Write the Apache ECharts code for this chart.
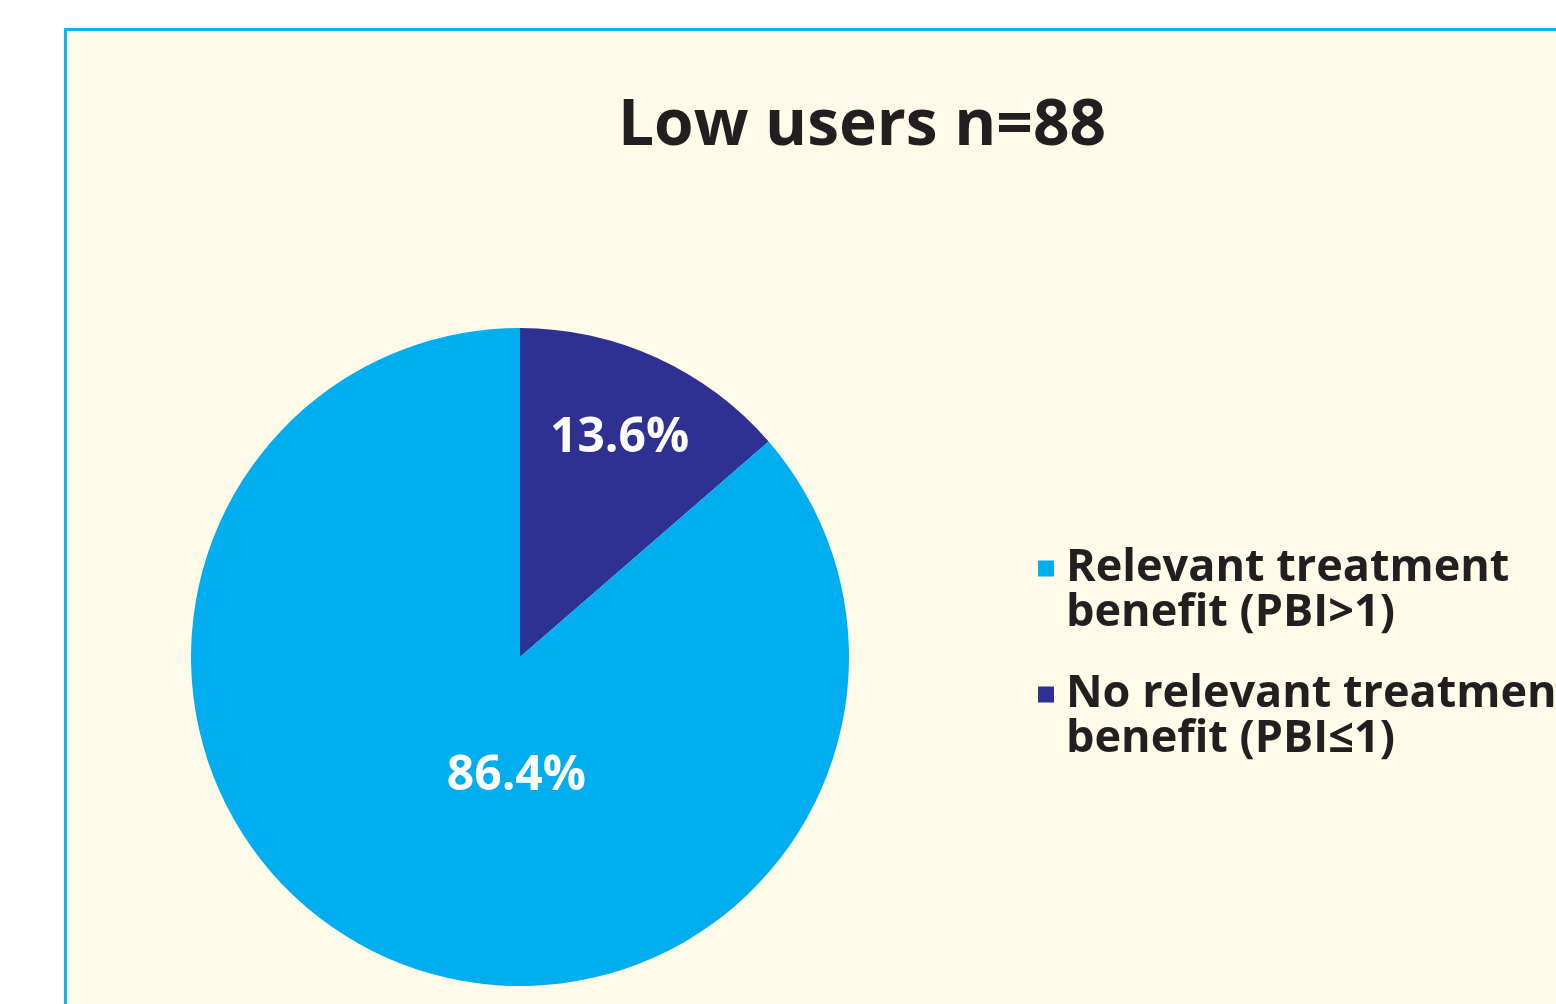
<!DOCTYPE html>
<html>
<head>
<meta charset="utf-8">
<script src="https://cdn.jsdelivr.net/npm/echarts@6/dist/echarts.min.js"></script>
<style>
  html, body { margin: 0; padding: 0; background: #fff; }
  #main { width: 1556px; height: 1004px; }
</style>
</head>
<body>
<div id="main"></div>
<script>
// data (n = 88)
var categories = ['No relevant treatment benefit (PBI≤1)', 'Relevant treatment benefit (PBI>1)'];
var counts = [12, 76];
var colors = ['#2e3192', '#00aeef'];
var legendOrder = ['Relevant treatment benefit (PBI>1)', 'No relevant treatment benefit (PBI≤1)'];
var legendLines = {
    'Relevant treatment benefit (PBI>1)': 'Relevant treatment\nbenefit (PBI>1)',
    'No relevant treatment benefit (PBI≤1)': 'No relevant treatment\nbenefit (PBI≤1)'
};
var titleText = 'Low users n=88';

var font = '"Open Sans", "Noto Sans", sans-serif';

var pieData = [];
for (var i = 0; i < categories.length; i++) {
    pieData.push({ name: categories[i], value: counts[i], itemStyle: { color: colors[i] } });
}

// square marker in the top-left of a larger icon box, so it lines up with the first text line
var legendIcon = 'path://M0,0H16V16H0Z M23,61H23.01V61.01H23Z';

var chart = echarts.init(document.getElementById('main'));
chart.setOption({
    backgroundColor: '#ffffff',
    animation: false,
    graphic: [{
        type: 'rect',
        z: -10,
        shape: { x: 65.5, y: 29.5, width: 1700, height: 1100 },
        style: { fill: '#fefbe8', stroke: '#0cb4f0', lineWidth: 3 }
    }],
    title: {
        text: titleText,
        left: 857,
        textAlign: 'center',
        top: 90,
        textStyle: {
            fontFamily: font,
            fontWeight: 'bold',
            fontSize: 64,
            color: '#231f20'
        }
    },
    legend: {
        orient: 'vertical',
        left: 1038,
        top: 546,
        padding: 0,
        itemGap: 36,
        itemWidth: 23,
        itemHeight: 61,
        icon: legendIcon,
        data: legendOrder,
        formatter: function (name) { return legendLines[name]; },
        textStyle: {
            fontFamily: font,
            fontWeight: 'bold',
            fontSize: 45,
            lineHeight: 45,
            color: '#231f20'
        }
    },
    series: [{
        type: 'pie',
        center: [520, 657],
        radius: [0, 329],
        startAngle: 90,
        clockwise: true,
        percentPrecision: 1,
        data: pieData,
        label: {
            show: true,
            position: 'inside',
            formatter: '{d}%',
            color: '#ffffff',
            fontFamily: font,
            fontWeight: 'bold',
            fontSize: 48
        },
        labelLine: { show: false },
        labelLayout: function (p) {
            return p.dataIndex === 0 ? { dx: 30, dy: -66 } : { dx: 66, dy: -33 };
        },
        emphasis: { disabled: true }
    }]
});
</script>
</body>
</html>
